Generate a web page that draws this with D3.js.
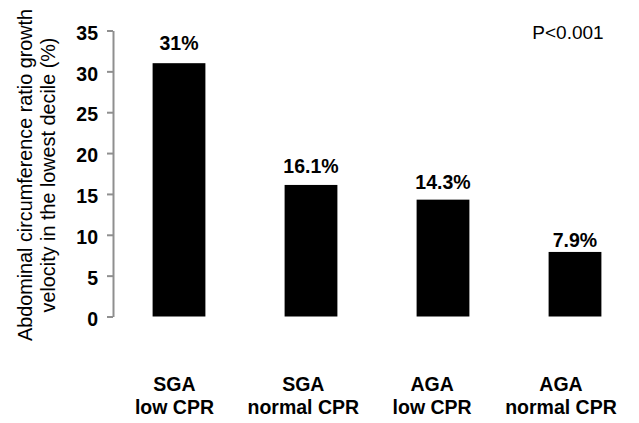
<!DOCTYPE html>
<html>
<head>
<meta charset="utf-8">
<script src="https://cdn.jsdelivr.net/npm/d3@7"></script>
<style>
  html, body { margin: 0; padding: 0; background: #fff; }
  svg { display: block; font-family: "Liberation Sans", Arial, sans-serif; }
</style>
</head>
<body>
<svg id="chart" width="639" height="423"></svg>
<script>
const categories = ["SGA|low CPR", "SGA|normal CPR", "AGA|low CPR", "AGA|normal CPR"];
const values = [31, 16.1, 14.3, 7.9];
const valueLabels = ["31%", "16.1%", "14.3%", "7.9%"];
const yTicks = [0, 5, 10, 15, 20, 25, 30, 35];
const yTitle = ["Abdominal circumference ratio growth", "velocity in the lowest decile (%)"];
const pText = "P<0.001";

// label gap above each bar (style)
const labelGap = [13, 12, 11, 4.5];

const svg = d3.select("#chart");

const y = d3.scaleLinear().domain([0, 35]).range([316.5, 30.5]);
const x = d3.scaleBand().domain(categories).range([113, 641]).paddingInner(0.6).paddingOuter(0.3);
const xLab = d3.scalePoint().domain(categories).range([174.5, 561]);

// y axis
const yAxis = d3.axisLeft(y).tickValues(yTicks).tickSize(6).tickPadding(9).tickSizeOuter(0);
const gy = svg.append("g").attr("transform", "translate(113,0)").call(yAxis);
gy.select(".domain").attr("stroke", "#8f8f8f").attr("stroke-width", 2);
gy.selectAll(".tick line").attr("stroke", "#8f8f8f").attr("stroke-width", 2);
gy.selectAll(".tick text")
  .attr("fill", "#000")
  .attr("font-size", "19.5px")
  .attr("font-weight", "bold")
  .attr("font-family", "'Liberation Sans', Arial, sans-serif")
  .attr("dy", "0.45em");

// bars
svg.append("g").selectAll("rect").data(categories).join("rect")
  .attr("x", d => x(d))
  .attr("width", x.bandwidth())
  .attr("y", (d, i) => y(values[i]))
  .attr("height", (d, i) => y(0) - y(values[i]))
  .attr("fill", "#000");

// value labels
svg.append("g").selectAll("text").data(categories).join("text")
  .attr("x", d => x(d) + x.bandwidth() / 2)
  .attr("y", (d, i) => y(values[i]) - labelGap[i])
  .attr("text-anchor", "middle")
  .attr("font-size", "19.5px")
  .attr("font-weight", "bold")
  .text((d, i) => valueLabels[i]);

// category labels
const cl = svg.append("g").selectAll("text").data(categories).join("text")
  .attr("text-anchor", "middle")
  .attr("font-size", "19.5px")
  .attr("font-weight", "bold");
cl.append("tspan").attr("x", d => xLab(d)).attr("y", 390.5).text(d => d.split("|")[0]);
cl.append("tspan").attr("x", d => xLab(d)).attr("y", 414).text(d => d.split("|")[1]);

// y title
const yt = svg.append("text")
  .attr("transform", "translate(0,175) rotate(-90)")
  .attr("text-anchor", "middle")
  .attr("font-size", "19.8px");
yt.append("tspan").attr("x", 0).attr("y", 32).text(yTitle[0]);
yt.append("tspan").attr("x", 0).attr("y", 55).text(yTitle[1]);

// p value
svg.append("text")
  .attr("x", 568)
  .attr("y", 39)
  .attr("text-anchor", "middle")
  .attr("font-size", "19px")
  .text(pText);
</script>
</body>
</html>
